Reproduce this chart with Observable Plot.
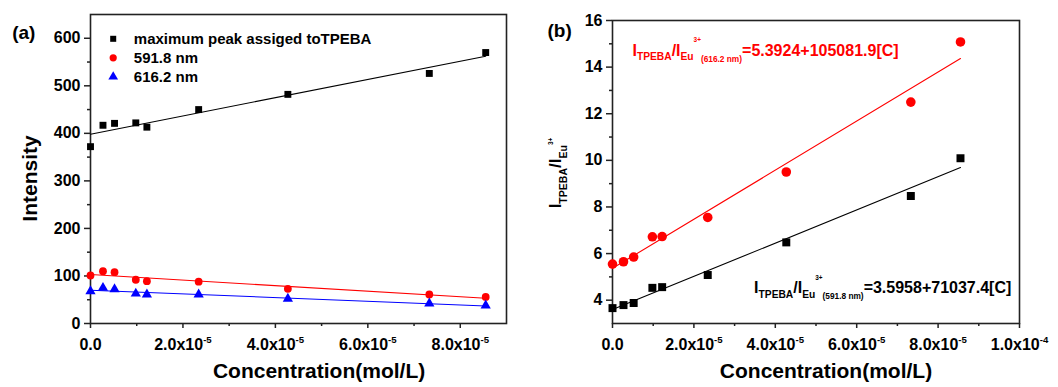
<!DOCTYPE html>
<html><head><meta charset="utf-8">
<script src="https://cdn.jsdelivr.net/npm/d3@7"></script>
<script src="https://cdn.jsdelivr.net/npm/@observablehq/plot@0.6"></script>
<style>
html,body{margin:0;padding:0;background:#fff;}
#wrap{display:flex;width:1058px;height:387px;overflow:hidden;}
#wrap svg{overflow:visible;}
</style></head><body><div id="wrap"><div id="pa"></div><div id="pb"></div></div>
<script>
// ---- data ----
const concentration = [0, 0.27e-5, 0.52e-5, 0.98e-5, 1.22e-5, 2.34e-5, 4.27e-5, 7.33e-5, 8.55e-5];
const peakTPEBA = [372, 417, 421, 422, 413, 450, 482, 526, 570];
const eu591 = [101, 110, 108, 92, 89, 88, 73, 61, 56];
const eu616 = [68, 75, 72, 63, 61, 61, 52, 42, 38];
const ratio591 = [3.66, 3.79, 3.88, 4.53, 4.56, 5.08, 6.48, 8.47, 10.09];
const ratio616 = [5.55, 5.65, 5.85, 6.72, 6.73, 7.55, 9.50, 12.50, 15.08];
const seriesA = ["maximum peak assiged toTPEBA", "591.8 nm", "616.2 nm"];
const seriesB = ["591.8 nm", "616.2 nm"];
const xTicksA = [0, 2e-5, 4e-5, 6e-5, 8e-5];
const xMinorA = [1e-5, 3e-5, 5e-5, 7e-5];
const yTicksA = [0, 100, 200, 300, 400, 500, 600];
const yMinorA = [50, 150, 250, 350, 450, 550];
const xTicksB = [0, 2e-5, 4e-5, 6e-5, 8e-5, 1e-4];
const xMinorB = [1e-5, 3e-5, 5e-5, 7e-5, 9e-5];
const yTicksB = [4, 6, 8, 10, 12, 14, 16];
const yMinorB = [5, 7, 9, 11, 13, 15];
const equationsB = ["I_{TPEBA}/I_{Eu}^{3+}~{(616.2 nm)}=5.3924+105081.9[C]",
                    "I_{TPEBA}/I_{Eu}^{3+}~{(591.8 nm)}=3.5958+71037.4[C]"];
const xLabel = "Concentration(mol/L)";
const yLabelA = "Intensity";
const yLabelB = "I_{TPEBA}/I_{Eu}^{3+}";

// ---- styles ----
const FONT = "'Liberation Sans', Arial, Helvetica, sans-serif";
const colorsA = ["#000000", "#ff0000", "#0000ff"];
const symbolsA = ["square", "circle", "triangle"];
const radiiA = [3.9, 3.9, 3.8];
const colorsB = ["#000000", "#ff0000"];
const symbolsB = ["square", "circle"];
const radiiB = [4.5, 4.8];
const AX = "#222";

function sci(d) {
  if (d === 0) return "0.0";
  const e = Math.floor(Math.log10(d) + 1e-9);
  const m = d / Math.pow(10, e);
  return m.toFixed(1) + "x10^{" + e + "}";
}

const rowsA = seriesA.flatMap((s, k) => concentration.map((c, i) =>
  ({c, v: [peakTPEBA, eu591, eu616][k][i], s})));
const rowsB = seriesB.flatMap((s, k) => concentration.map((c, i) =>
  ({c, v: [ratio591, ratio616][k][i], s})));

function axes(xT, xM, yT, yM) {
  return [
    Plot.axisX({ticks: xT, tickSize: 5, tickPadding: 10, tickFormat: sci, fontSize: 16,
      fontWeight: "bold", label: null, stroke: AX, strokeWidth: 1.5}),
    Plot.axisX({ticks: xM, tickSize: 3, tickFormat: () => "", label: null, stroke: AX, strokeWidth: 1.5}),
    Plot.axisY({ticks: yT, tickSize: 6, tickPadding: 4, fontSize: 16, fontWeight: "bold",
      label: null, stroke: AX, strokeWidth: 1.5}),
    Plot.axisY({ticks: yM, tickSize: 3, tickFormat: () => "", label: null, stroke: AX, strokeWidth: 1.5}),
    Plot.frame({stroke: AX, strokeWidth: 1.6})
  ];
}

// ---- panel (a) ----
const plotA = Plot.plot({
  width: 530, height: 387,
  marginLeft: 90, marginRight: 24, marginTop: 14, marginBottom: 64,
  x: {domain: [0, 9e-5]},
  y: {domain: [0, 650]},
  style: {fontFamily: FONT, fontWeight: "bold", color: "black", background: "white"},
  marks: [
    ...axes(xTicksA, xMinorA, yTicksA, yMinorA),
    ...seriesA.map((s, k) => Plot.linearRegressionY(rowsA.filter(d => d.s === s),
      {x: "c", y: "v", stroke: colorsA[k], strokeWidth: 1.1, ci: 0})),
    ...seriesA.map((s, k) => Plot.dot(rowsA.filter(d => d.s === s),
      {x: "c", y: "v", fill: colorsA[k], symbol: symbolsA[k], r: radiiA[k]})),
    // legend
    ...seriesA.map((s, k) => Plot.dot([s], {frameAnchor: "top-left", dx: 22.7, dy: 24.3 + 19 * k,
      fill: colorsA[k], symbol: symbolsA[k], r: k === 0 ? 3.4 : 3.6})),
    ...seriesA.map((s, k) => Plot.text([s], {text: d => d, frameAnchor: "top-left", dx: 43.3, dy: 24.3 + 19 * k,
      textAnchor: "start", lineAnchor: "middle", fontSize: 15, fontWeight: "bold", fill: "black"})),
    Plot.text(["(a)"], {text: d => d, frameAnchor: "top-left", dx: -78.3, dy: 24, textAnchor: "start",
      lineAnchor: "bottom", fontSize: 19, fontWeight: "bold", fill: "black"}),
    Plot.text([yLabelA], {text: d => d, frameAnchor: "left", rotate: -90, dx: -53.3, dy: 9.5,
      textAnchor: "middle", lineAnchor: "bottom", fontSize: 21, fontWeight: "bold", fill: "black"}),
    Plot.text([xLabel], {text: d => d, frameAnchor: "bottom", dx: 20.6, dy: 54.5,
      textAnchor: "middle", lineAnchor: "bottom", fontSize: 21, fontWeight: "bold", fill: "black"})
  ]
});

// ---- panel (b) ----
const plotB = Plot.plot({
  width: 528, height: 387,
  marginLeft: 82, marginRight: 39, marginTop: 20, marginBottom: 64,
  x: {domain: [0, 1e-4]},
  y: {domain: [3, 16]},
  style: {fontFamily: FONT, fontWeight: "bold", color: "black", background: "white"},
  marks: [
    ...axes(xTicksB, xMinorB, yTicksB, yMinorB),
    ...seriesB.map((s, k) => Plot.linearRegressionY(rowsB.filter(d => d.s === s),
      {x: "c", y: "v", stroke: colorsB[k], strokeWidth: 1.1, ci: 0})),
    ...seriesB.map((s, k) => Plot.dot(rowsB.filter(d => d.s === s),
      {x: "c", y: "v", fill: colorsB[k], symbol: symbolsB[k], r: radiiB[k]})),
    Plot.text([equationsB[0]], {text: d => d, frameAnchor: "top-left", dx: 20, dy: 35, textAnchor: "start",
      lineAnchor: "bottom", fontSize: 16, fontWeight: "bold", fill: "#ff0000"}),
    Plot.text([equationsB[1]], {text: d => d, frameAnchor: "top-left", dx: 141.6, dy: 272.7, textAnchor: "start",
      lineAnchor: "bottom", fontSize: 16, fontWeight: "bold", fill: "#000000"}),
    Plot.text(["(b)"], {text: d => d, frameAnchor: "top-left", dx: -65, dy: 16.5, textAnchor: "start",
      lineAnchor: "bottom", fontSize: 19, fontWeight: "bold", fill: "black"}),
    Plot.text([yLabelB], {text: d => d, frameAnchor: "left", rotate: -90, dx: -51.7, dy: 1,
      textAnchor: "middle", lineAnchor: "bottom", fontSize: 17, fontWeight: "bold", fill: "black"}),
    Plot.text([xLabel], {text: d => d, frameAnchor: "bottom", dx: 10, dy: 54.5,
      textAnchor: "middle", lineAnchor: "bottom", fontSize: 21, fontWeight: "bold", fill: "black"})
  ]
});

document.getElementById("pa").appendChild(plotA);
document.getElementById("pb").appendChild(plotB);

// ---- rich text (sub/superscripts) ----
function richText(el, base, cfg) {
  const s = el.textContent;
  const parts = [];
  const re = /([_^~])\{([^}]*)\}|([^_^~]+)/g;
  let m;
  while ((m = re.exec(s))) parts.push(m[3] != null ? {t: m[3], k: ""} : {t: m[2], k: m[1]});
  el.textContent = "";
  let cur = 0;
  for (const p of parts) {
    const c = p.k ? cfg[p.k] : {size: 1, shift: 0};
    const target = c.shift * base;
    const ts = document.createElementNS("http://www.w3.org/2000/svg", "tspan");
    ts.setAttribute("font-size", (c.size * base).toFixed(2) + "px");
    ts.style.fontSize = (c.size * base).toFixed(2) + "px";
    if (Math.abs(target - cur) > 1e-6) ts.setAttribute("dy", (target - cur).toFixed(2));
    cur = target;
    ts.textContent = p.t;
    el.appendChild(ts);
  }
}
const tickCfg = {"^": {size: 0.6, shift: -0.46}};
const eqCfg = {"_": {size: 0.64, shift: 0.27}, "^": {size: 0.4, shift: -0.85}, "~": {size: 0.52, shift: 0.38}};
const ylabCfg = {"_": {size: 0.62, shift: 0.38}, "^": {size: 0.38, shift: -0.45}, "~": {size: 0.5, shift: 0.4}};
for (const svg of [plotA, plotB]) {
  svg.querySelectorAll("text").forEach(el => {
    const s = el.textContent;
    if (!/[_^~]\{/.test(s)) return;
    if (s === yLabelB) richText(el, 17, ylabCfg);
    else if (s.includes("=")) richText(el, 16, eqCfg);
    else richText(el, 16, tickCfg);
  });
}
</script>
</body></html>
